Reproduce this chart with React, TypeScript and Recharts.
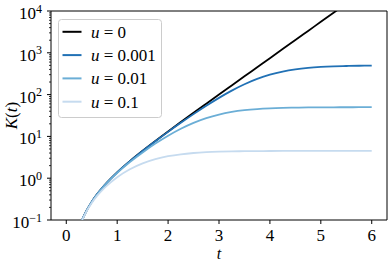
import React from 'react';
import { LineChart, Line, XAxis, YAxis, Legend, ReferenceArea, Label } from 'recharts';

const tValues = [0.2, 0.3, 0.4, 0.5, 0.6, 0.75, 1, 1.25, 1.5, 1.75, 2, 2.25, 2.5, 2.75, 3, 3.25, 3.5, 3.75, 4, 4.25, 4.5, 4.75, 5, 5.25, 5.5, 5.75, 6];
const kU0 = [0.0405, 0.0927, 0.1688, 0.2715, 0.4053, 0.6762, 1.381, 2.566, 4.534, 7.786, 13.15, 22.01, 36.61, 60.67, 100.4, 165.8, 273.7, 451.5, 744.7, 1228, 2025, 3340, 5506, 9079, 14967, 24678, 40689];
const kU0001 = [0.0405, 0.0927, 0.1687, 0.2714, 0.405, 0.6753, 1.377, 2.553, 4.493, 7.667, 12.82, 21.08, 34.11, 54.11, 83.58, 124.5, 176.9, 237.3, 299.2, 355.3, 401.0, 434.9, 458.4, 473.9, 483.8, 490.1, 493.9];
const kU001 = [0.0405, 0.0926, 0.1682, 0.27, 0.4021, 0.6672, 1.344, 2.441, 4.135, 6.741, 10.41, 15.28, 21.13, 27.41, 33.37, 38.41, 42.28, 45.01, 46.85, 48.04, 48.8, 49.26, 49.55, 49.73, 49.83, 49.9, 49.94];
const kU01 = [0.0402, 0.0909, 0.1627, 0.2561, 0.3718, 0.5878, 1.057, 1.634, 2.259, 2.852, 3.353, 3.736, 4.007, 4.189, 4.307, 4.381, 4.427, 4.455, 4.473, 4.484, 4.49, 4.494, 4.496, 4.498, 4.499, 4.499, 4.4995];

const uLabels = ['0', '0.001', '0.01', '0.1'];
const seriesKeys = ['u0', 'u0001', 'u001', 'u01'];
const seriesColors = ['#000000', '#2171b5', '#6baed6', '#c6dbef'];

const xTicks = [0, 1, 2, 3, 4, 5, 6];
const yMajorTicks = [0.1, 1, 10, 100, 1000, 10000];
const yMinorFactors = [2, 3, 4, 5, 6, 7, 8, 9];

const data = tValues.map((t, i) => ({
  t,
  u0: kU0[i],
  u0001: kU0001[i],
  u001: kU001[i],
  u01: kU01[i],
}));

const yAllTicks: number[] = [];
yMajorTicks.forEach((m, i) => {
  yAllTicks.push(m);
  if (i < yMajorTicks.length - 1) yMinorFactors.forEach((f) => yAllTicks.push(m * f));
});

const FONT = "'Liberation Serif', 'DejaVu Serif', serif";
const textStyle: React.CSSProperties = { fontFamily: FONT, fontSize: 17 };

const isMajor = (v: number) => yMajorTicks.some((m) => Math.abs(m - v) / m < 1e-6);

const YTick = (props: any) => {
  const { x, y, payload } = props;
  const v = payload.value;
  if (!isMajor(v)) {
    return <line x1={x - 2} x2={x} y1={y} y2={y} stroke="#000" strokeWidth={0.8} />;
  }
  const exp = Math.round(Math.log10(v));
  const expText = exp < 0 ? '\u2212' + Math.abs(exp) : String(exp);
  return (
    <g>
      <line x1={x - 4} x2={x} y1={y} y2={y} stroke="#000" strokeWidth={1} />
      <text x={x - 9} y={y + 8} textAnchor="end" style={textStyle} fill="#000">
        <tspan>10</tspan>
        <tspan dy={-6.5} style={{ fontSize: 12 }}>{expText}</tspan>
      </text>
    </g>
  );
};

const XTick = (props: any) => {
  const { x, y, payload } = props;
  return (
    <g>
      <line x1={x} x2={x} y1={y} y2={y + 4} stroke="#000" strokeWidth={1} />
      <text x={x} y={y + 21} textAnchor="middle" style={textStyle} fill="#000">
        {payload.value}
      </text>
    </g>
  );
};

const renderLegend = (props: any) => {
  const payload = (props.payload || []) as any[];
  return (
    <svg width={105} height={100} style={{ display: 'block', overflow: 'visible' }}>
      <rect x={0.5} y={0.5} width={103} height={98} rx={3} ry={3} fill="#ffffff" fillOpacity={0.8} stroke="#cccccc" strokeWidth={1} />
      {payload.map((p, i) => {
        const cy = 12.8 + i * 23.3;
        const idx = seriesKeys.indexOf(p.dataKey);
        return (
          <g key={i}>
            <line x1={4.5} x2={23.5} y1={cy} y2={cy} stroke={p.color} strokeWidth={2} />
            <text x={33} y={cy + 6} style={textStyle} fill="#000">
              <tspan style={{ fontStyle: 'italic' }}>u</tspan>
              <tspan>{' = ' + uLabels[idx >= 0 ? idx : i]}</tspan>
            </text>
          </g>
        );
      })}
    </svg>
  );
};

export default function App() {
  return (
    <div style={{ position: 'absolute', left: 0, top: 0, width: 391, height: 262, background: '#fff' }}>
      <LineChart width={391} height={262} data={data} margin={{ top: 11, right: 4, bottom: 0, left: 0 }}>
        <XAxis
          dataKey="t"
          type="number"
          domain={[-0.3, 6.3]}
          ticks={xTicks}
          interval={0}
          height={42}
          tickLine={false}
          tickSize={0}
          tickMargin={0}
          axisLine={false}
          tick={<XTick />}
        >
          <Label
            content={(p: any) => {
              const vb = p.viewBox || { x: 51, y: 220, width: 336, height: 42 };
              return (
                <text x={vb.x + vb.width / 2} y={vb.y + 39} textAnchor="middle" style={{ ...textStyle, fontSize: 16, fontStyle: 'italic' }} fill="#000">
                  t
                </text>
              );
            }}
          />
        </XAxis>
        <YAxis
          scale="log"
          type="number"
          domain={[0.1, 10000]}
          allowDataOverflow
          ticks={yAllTicks}
          interval={0}
          width={51}
          tickLine={false}
          tickSize={0}
          tickMargin={0}
          axisLine={false}
          tick={<YTick />}
        >
          <Label
            content={(p: any) => {
              const vb = p.viewBox || { x: 0, y: 11, width: 51, height: 209 };
              const cx = vb.x + 11;
              const cy = vb.y + vb.height / 2;
              return (
                <text x={cx} y={cy + 6} textAnchor="middle" transform={`rotate(-90, ${cx}, ${cy})`} style={textStyle} fill="#000">
                  <tspan style={{ fontStyle: 'italic' }}>K</tspan>
                  <tspan>(</tspan>
                  <tspan style={{ fontStyle: 'italic' }}>t</tspan>
                  <tspan>)</tspan>
                </text>
              );
            }}
          />
        </YAxis>
        {seriesKeys.map((k, i) => (
          <Line
            key={k}
            dataKey={k}
            name={'u = ' + uLabels[i]}
            type="monotone"
            stroke={seriesColors[i]}
            strokeWidth={1.8}
            dot={false}
            activeDot={false}
            isAnimationActive={false}
          />
        ))}
        <ReferenceArea x1={-0.3} x2={6.3} y1={0.1} y2={10000} fill="none" fillOpacity={0} stroke="#000" strokeWidth={1} ifOverflow="visible" />
        <Legend
          content={renderLegend}
          layout="horizontal"
          verticalAlign="middle"
          align="center"
          wrapperStyle={{ position: 'absolute', left: 58, top: 19, width: 105, height: 100 }}
        />
      </LineChart>
    </div>
  );
}
